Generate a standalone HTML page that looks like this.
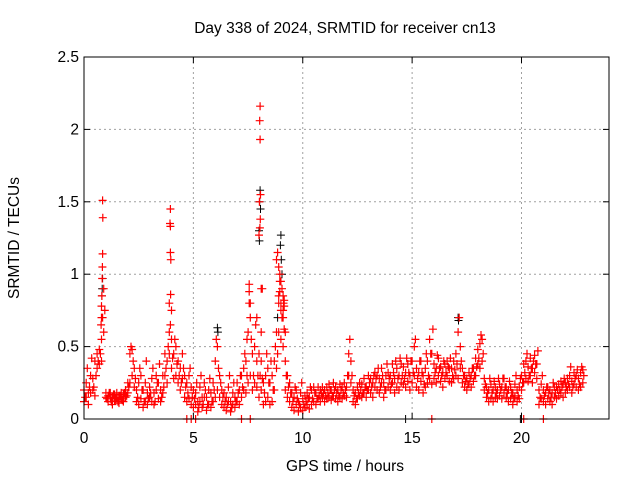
<!DOCTYPE html>
<html><head><meta charset="utf-8"><style>
body{margin:0;background:#fff;}
svg{display:block;font-family:"Liberation Sans",sans-serif;}
</style></head><body>
<svg id="chart" width="640" height="480">
<rect width="640" height="480" fill="#fff"/>
<text x="345" y="33" font-size="15.5" text-anchor="middle">Day 338 of 2024, SRMTID for receiver cn13</text>
<text x="345" y="471" font-size="15.5" text-anchor="middle">GPS time / hours</text>
<text transform="translate(19,238) rotate(-90)" font-size="15.5" text-anchor="middle">SRMTID / TECUs</text>
<g id="grid"></g><g id="black"></g><g id="red"></g><g id="axes"></g>
</svg>
<script>
const xTicks=[0,5,10,15,20];
const yTicks=[0,0.5,1,1.5,2,2.5];
const yTickLabels=["0","0.5","1","1.5","2","2.5"];
const redLo=[.12,.15,.10,.18,.20,.16,.35,.38,.40,.60,.15,.12,.14,.10,.13,.15,.11,.14,.12,.15,.18,.25,.30,.22,.12,.10,.14,.08,.12,.10,.15,.12,.10,.20,.14,.12,.18,.30,.25,.45,.35,.28,.30,.25,.20,.28,.15,.12,.14,.10,.08,.10,.05,.12,.08,.15,.06,.10,.08,.12,.15,.20,.15,.10,.08,.06,.12,.05,.10,.08,.12,.10,.15,.20,.18,.25,.30,.20,.25,.22,.15,.20,.10,.12,.15,.10,.12,.20,.35,.60,.55,.50,.20,.15,.12,.08,.06,.10,.05,.08,.06,.08,.10,.07,.10,.12,.10,.14,.12,.15,.12,.14,.15,.13,.16,.14,.12,.15,.14,.16,.15,.30,.25,.12,.10,.14,.16,.15,.18,.15,.20,.18,.15,.22,.20,.18,.25,.15,.20,.22,.20,.25,.18,.22,.20,.25,.24,.22,.26,.20,.25,.30,.22,.20,.26,.18,.22,.25,.28,.24,.28,.25,.30,.26,.22,.28,.30,.26,.25,.28,.30,.28,.35,.25,.22,.20,.24,.22,.26,.30,.38,.35,.40,.20,.15,.12,.14,.12,.15,.14,.16,.14,.18,.15,.12,.14,.10,.15,.12,.14,.20,.25,.28,.26,.30,.25,.32,.28,.10,.14,.12,.10,.14,.12,.10,.15,.14,.16,.18,.15,.18,.20,.22,.18,.24,.22,.20,.22,.25];
const redMid=[.20,.25,.18,.30,.28,.40,.45,.48,.55,.90,.18,.16,.18,.15,.17,.18,.16,.18,.17,.20,.25,.45,.48,.35,.20,.25,.30,.20,.25,.18,.22,.28,.18,.30,.25,.20,.30,.45,.40,.60,.55,.45,.50,.40,.35,.45,.30,.25,.30,.22,.20,.18,.12,.22,.15,.25,.15,.20,.18,.25,.40,.50,.30,.20,.18,.15,.22,.12,.18,.15,.25,.20,.30,.35,.40,.60,.70,.45,.50,.40,.45,.40,.25,.30,.35,.25,.30,.40,.60,.85,.80,.75,.40,.30,.25,.18,.15,.20,.12,.18,.14,.16,.18,.15,.20,.22,.18,.22,.20,.22,.20,.22,.24,.20,.25,.22,.20,.24,.22,.25,.22,.45,.40,.20,.18,.22,.25,.24,.28,.22,.30,.28,.25,.32,.30,.28,.35,.25,.30,.32,.30,.38,.28,.35,.30,.38,.36,.32,.38,.30,.40,.50,.35,.32,.40,.30,.35,.40,.55,.45,.38,.35,.42,.36,.32,.38,.40,.35,.35,.40,.45,.60,.50,.35,.30,.28,.32,.30,.35,.42,.48,.52,.55,.28,.22,.20,.24,.20,.22,.20,.24,.22,.28,.22,.20,.22,.18,.24,.20,.22,.30,.38,.40,.36,.42,.35,.44,.38,.20,.24,.20,.18,.22,.20,.18,.22,.22,.24,.26,.24,.25,.28,.30,.26,.32,.30,.28,.32,.34];
const redHalf=[.15,.35,.22,.42,.22,.30,.40,.45,.70,.75,.14,.18,.12,.17,.14,.12,.16,.13,.18,.16,.22,.50,.40,.28,.15,.35,.20,.12,.40,.14,.18,.35,.12,.25,.38,.15,.22,.35,.50,.65,.42,.55,.38,.30,.25,.35,.22,.18,.35,.15,.14,.25,.08,.30,.10,.20,.10,.28,.12,.20,.55,.35,.25,.15,.12,.10,.30,.08,.25,.12,.18,.30,.22,.45,.30,.80,.55,.30,.65,.30,.30,.28,.18,.45,.25,.40,.20,.50,.45,.95,.70,.62,.30,.22,.18,.12,.22,.14,.10,.25,.10,.12,.14,.22,.14,.18,.14,.16,.18,.18,.16,.18,.20,.16,.20,.18,.16,.20,.18,.20,.30,.55,.30,.16,.14,.18,.20,.18,.22,.20,.25,.22,.30,.28,.35,.22,.30,.20,.38,.28,.24,.32,.40,.28,.42,.30,.28,.42,.32,.40,.32,.55,.28,.40,.32,.24,.45,.30,.45,.62,.32,.44,.35,.30,.40,.32,.36,.42,.30,.34,.38,.70,.40,.30,.26,.24,.28,.35,.30,.36,.42,.58,.45,.24,.18,.28,.18,.26,.18,.28,.20,.28,.22,.18,.26,.18,.14,.30,.16,.28,.25,.32,.45,.30,.35,.40,.38,.47,.15,.30,.16,.22,.18,.15,.25,.18,.20,.20,.22,.28,.22,.24,.36,.22,.28,.34,.24,.36,.30];
const spikeT=[0.85,0.86,0.85,0.84,0.83,0.82,0.8,0.8,0.78,3.95,3.93,3.95,3.95,3.97,3.96,3.9,4.0,8.05,8.03,8.05,8.07,8.02,8.06,8.04,8.0,8.1,8.15,8.1,8.85,8.9,8.8,8.95,9.0,9.05,9.1,9.15,9.0,8.9,9.1,9.2,8.95,9.12,9.15,7.55,7.55,7.6,7.45,7.9,7.85,4.7,4.9,5.1,7.2,7.6,15.9,20.1,21.0];
const spikeV=[1.51,1.39,1.14,1.05,0.97,0.85,0.78,0.7,0.65,1.45,1.35,1.33,1.15,1.1,0.86,0.8,0.75,2.16,2.06,1.93,1.55,1.5,1.38,1.32,1.27,0.9,0.9,0.6,1.15,1.05,1.1,1.0,0.95,0.9,0.85,0.82,0.75,0.8,0.7,0.6,0.88,0.8,0.78,0.93,0.88,0.8,0.55,0.7,0.65,0,0,0,0,0,0,0,0];
const blackT=[0.85,0.83,0.82,8.05,8.03,8.07,8.0,8.02,9.0,8.98,9.02,9.05,6.1,6.12,17.1,17.12,8.85,14.7,19.95,20.0];
const blackV=[0.97,0.9,0.85,1.58,1.5,1.45,1.3,1.23,1.27,1.2,1.1,1.0,0.63,0.6,0.7,0.68,0.7,0,0,0];

const NS='http://www.w3.org/2000/svg';
const L=84,R=609,T=57,B=419,XMAX=24,YMAX=2.5;
const xs=t=>L+t/XMAX*(R-L), ys=v=>B-v/YMAX*(B-T);
function el(tag,attrs,parent){const e=document.createElementNS(NS,tag);for(const k in attrs)e.setAttribute(k,attrs[k]);parent.appendChild(e);return e;}
const grid=document.getElementById('grid'),axes=document.getElementById('axes');
xTicks.forEach((t,i)=>{
  const x=xs(t);
  if(i>0){const g=el('line',{x1:x,x2:x,y1:T,y2:B,stroke:'#a0a0a0','stroke-dasharray':'2,3'},grid);
  
  }
  el('line',{x1:x,x2:x,y1:B,y2:B-6,stroke:'#000'},axes);
  el('line',{x1:x,x2:x,y1:T,y2:T+6,stroke:'#000'},axes);
  const tx=el('text',{x:x,y:B+24,'font-size':15.5,'text-anchor':'middle'},axes);tx.textContent=t;
  
  
});
yTicks.forEach((v,i)=>{
  const y=ys(v);
  if(i>0&&i<yTicks.length-1){const g=el('line',{x1:L,x2:R,y1:y,y2:y,stroke:'#a0a0a0','stroke-dasharray':'2,3'},grid);
  
  }
  el('line',{x1:L,x2:L+6,y1:y,y2:y,stroke:'#000'},axes);
  el('line',{x1:R,x2:R-6,y1:y,y2:y,stroke:'#000'},axes);
  const tx=el('text',{x:L-5,y:y+5,'font-size':15.5,'text-anchor':'end'},axes);tx.textContent=yTickLabels[i];
  
  
});
const border=el('rect',{x:L,y:T,width:R-L,height:B-T,fill:'none',stroke:'#000'},axes);


function plus(t,v){const x=xs(t),y=ys(v);return `M${(x-4).toFixed(1)} ${y.toFixed(1)}h8M${x.toFixed(1)} ${(y-4).toFixed(1)}v8`;}
let bd='';blackT.forEach((t,i)=>bd+=plus(t,blackV[i]));
const bp=el('path',{d:bd,stroke:'#000','stroke-width':1,fill:'none'},document.getElementById('black'));


let rd='';
redLo.forEach((v,i)=>rd+=plus(i*0.1,v));
redMid.forEach((v,i)=>rd+=plus(i*0.1,v));
redHalf.forEach((v,i)=>rd+=plus(i*0.1+0.05,v));
spikeT.forEach((t,i)=>rd+=plus(t,spikeV[i]));
const rp=el('path',{d:rd,stroke:'#ff0000','stroke-width':1.2,fill:'none'},document.getElementById('red'));


</script>
</body></html>
